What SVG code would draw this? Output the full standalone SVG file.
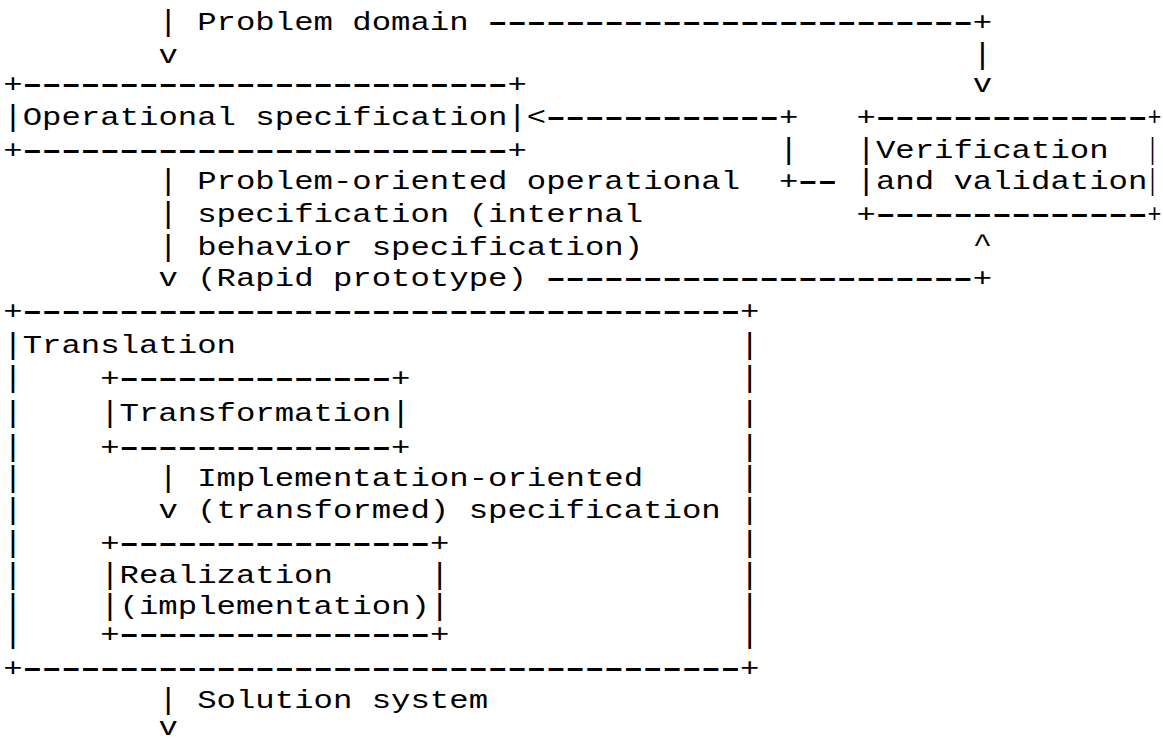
<svg xmlns="http://www.w3.org/2000/svg" width="1163" height="742" viewBox="0 0 1163 742">
<style>
text { font-family: "Liberation Mono", "DejaVu Sans Mono", monospace; font-size: 25px; fill: #000; white-space: pre; }
text.bar { font-size: 30px; }
text.dash { font-family: "Liberation Sans", "Arial", sans-serif; font-weight: bold; }
</style>
<rect x="0" y="0" width="1163" height="742" fill="#fff"/>

<g id="node-operational-specification">
  <text x="3.3" y="92" textLength="19.39" lengthAdjust="spacingAndGlyphs">+</text>
  <text class="dash" x="22.7" y="92" textLength="484.75" lengthAdjust="spacingAndGlyphs">-------------------------</text>
  <text x="507.4" y="92" textLength="19.39" lengthAdjust="spacingAndGlyphs">+</text>
  <text class="bar" x="3.3" y="126" textLength="19.39" lengthAdjust="spacingAndGlyphs">|</text>
  <text x="22.7" y="125" textLength="484.75" lengthAdjust="spacingAndGlyphs">Operational specification</text>
  <text class="bar" x="507.4" y="126" textLength="19.39" lengthAdjust="spacingAndGlyphs">|</text>
  <text x="3.3" y="158" textLength="19.39" lengthAdjust="spacingAndGlyphs">+</text>
  <text class="dash" x="22.7" y="158" textLength="484.75" lengthAdjust="spacingAndGlyphs">-------------------------</text>
  <text x="507.4" y="158" textLength="19.39" lengthAdjust="spacingAndGlyphs">+</text>
</g>

<g id="node-verification-and-validation">
  <text x="856.5" y="125" textLength="19.39" lengthAdjust="spacingAndGlyphs">+</text>
  <text class="dash" x="875.9" y="125" textLength="271.46" lengthAdjust="spacingAndGlyphs">--------------</text>
  <text x="1147.5" y="125" textLength="14" lengthAdjust="spacingAndGlyphs">+</text>
  <text class="bar" x="856.5" y="159" textLength="19.39" lengthAdjust="spacingAndGlyphs">|</text>
  <text x="875.9" y="158" textLength="232.68" lengthAdjust="spacingAndGlyphs">Verification</text>
  <text class="bar" x="1147" y="159" textLength="11" lengthAdjust="spacingAndGlyphs">|</text>
  <text class="bar" x="856.5" y="190" textLength="19.39" lengthAdjust="spacingAndGlyphs">|</text>
  <text x="875.9" y="189" textLength="271.46" lengthAdjust="spacingAndGlyphs">and validation</text>
  <text class="bar" x="1147" y="190" textLength="11" lengthAdjust="spacingAndGlyphs">|</text>
  <text x="856.5" y="222" textLength="19.39" lengthAdjust="spacingAndGlyphs">+</text>
  <text class="dash" x="875.9" y="222" textLength="271.46" lengthAdjust="spacingAndGlyphs">--------------</text>
  <text x="1147.5" y="222" textLength="14" lengthAdjust="spacingAndGlyphs">+</text>
</g>

<g id="node-translation">
  <text x="3.3" y="319" textLength="19.39" lengthAdjust="spacingAndGlyphs">+</text>
  <text class="dash" x="22.7" y="319" textLength="717.43" lengthAdjust="spacingAndGlyphs">-------------------------------------</text>
  <text x="740.1" y="319" textLength="19.39" lengthAdjust="spacingAndGlyphs">+</text>
  <text class="bar" x="3.3" y="354" textLength="19.39" lengthAdjust="spacingAndGlyphs">|</text>
  <text x="22.7" y="353" textLength="213.29" lengthAdjust="spacingAndGlyphs">Translation</text>
  <text class="bar" x="740.1" y="354" textLength="19.39" lengthAdjust="spacingAndGlyphs">|</text>
  <text class="bar" x="3.3" y="387" textLength="19.39" lengthAdjust="spacingAndGlyphs">|</text>
  <text class="bar" x="740.1" y="387" textLength="19.39" lengthAdjust="spacingAndGlyphs">|</text>
  <text class="bar" x="3.3" y="422" textLength="19.39" lengthAdjust="spacingAndGlyphs">|</text>
  <text class="bar" x="740.1" y="422" textLength="19.39" lengthAdjust="spacingAndGlyphs">|</text>
  <text class="bar" x="3.3" y="456" textLength="19.39" lengthAdjust="spacingAndGlyphs">|</text>
  <text class="bar" x="740.1" y="456" textLength="19.39" lengthAdjust="spacingAndGlyphs">|</text>
  <text class="bar" x="3.3" y="487" textLength="19.39" lengthAdjust="spacingAndGlyphs">|</text>
  <text class="bar" x="740.1" y="487" textLength="19.39" lengthAdjust="spacingAndGlyphs">|</text>
  <text class="bar" x="3.3" y="519" textLength="19.39" lengthAdjust="spacingAndGlyphs">|</text>
  <text class="bar" x="740.1" y="519" textLength="19.39" lengthAdjust="spacingAndGlyphs">|</text>
  <text class="bar" x="3.3" y="552" textLength="19.39" lengthAdjust="spacingAndGlyphs">|</text>
  <text class="bar" x="740.1" y="552" textLength="19.39" lengthAdjust="spacingAndGlyphs">|</text>
  <text class="bar" x="3.3" y="584" textLength="19.39" lengthAdjust="spacingAndGlyphs">|</text>
  <text class="bar" x="740.1" y="584" textLength="19.39" lengthAdjust="spacingAndGlyphs">|</text>
  <text class="bar" x="3.3" y="615" textLength="19.39" lengthAdjust="spacingAndGlyphs">|</text>
  <text class="bar" x="740.1" y="615" textLength="19.39" lengthAdjust="spacingAndGlyphs">|</text>
  <text class="bar" x="3.3" y="643" textLength="19.39" lengthAdjust="spacingAndGlyphs">|</text>
  <text class="bar" x="740.1" y="643" textLength="19.39" lengthAdjust="spacingAndGlyphs">|</text>
  <text x="3.3" y="676" textLength="19.39" lengthAdjust="spacingAndGlyphs">+</text>
  <text class="dash" x="22.7" y="676" textLength="717.43" lengthAdjust="spacingAndGlyphs">-------------------------------------</text>
  <text x="740.1" y="676" textLength="19.39" lengthAdjust="spacingAndGlyphs">+</text>

  <g id="node-transformation">
    <text x="100.3" y="386" textLength="19.39" lengthAdjust="spacingAndGlyphs">+</text>
    <text class="dash" x="119.6" y="386" textLength="271.46" lengthAdjust="spacingAndGlyphs">--------------</text>
    <text x="391.1" y="386" textLength="19.39" lengthAdjust="spacingAndGlyphs">+</text>
    <text class="bar" x="100.3" y="422" textLength="19.39" lengthAdjust="spacingAndGlyphs">|</text>
    <text x="119.6" y="421" textLength="271.46" lengthAdjust="spacingAndGlyphs">Transformation</text>
    <text class="bar" x="391.1" y="422" textLength="19.39" lengthAdjust="spacingAndGlyphs">|</text>
    <text x="100.3" y="455" textLength="19.39" lengthAdjust="spacingAndGlyphs">+</text>
    <text class="dash" x="119.6" y="455" textLength="271.46" lengthAdjust="spacingAndGlyphs">--------------</text>
    <text x="391.1" y="455" textLength="19.39" lengthAdjust="spacingAndGlyphs">+</text>
  </g>

  <g id="node-realization">
    <text x="100.3" y="551" textLength="19.39" lengthAdjust="spacingAndGlyphs">+</text>
    <text class="dash" x="119.6" y="551" textLength="310.24" lengthAdjust="spacingAndGlyphs">----------------</text>
    <text x="429.9" y="551" textLength="19.39" lengthAdjust="spacingAndGlyphs">+</text>
    <text class="bar" x="100.3" y="584" textLength="19.39" lengthAdjust="spacingAndGlyphs">|</text>
    <text x="119.6" y="583" textLength="213.29" lengthAdjust="spacingAndGlyphs">Realization</text>
    <text class="bar" x="429.9" y="584" textLength="19.39" lengthAdjust="spacingAndGlyphs">|</text>
    <text class="bar" x="100.3" y="615" textLength="19.39" lengthAdjust="spacingAndGlyphs">|</text>
    <text x="119.6" y="614" textLength="310.24" lengthAdjust="spacingAndGlyphs">(implementation)</text>
    <text class="bar" x="429.9" y="615" textLength="19.39" lengthAdjust="spacingAndGlyphs">|</text>
    <text x="100.3" y="642" textLength="19.39" lengthAdjust="spacingAndGlyphs">+</text>
    <text class="dash" x="119.6" y="642" textLength="310.24" lengthAdjust="spacingAndGlyphs">----------------</text>
    <text x="429.9" y="642" textLength="19.39" lengthAdjust="spacingAndGlyphs">+</text>
  </g>
</g>

<g id="connectors">
  <!-- Problem domain input and branch to verification -->
  <text class="bar" x="158.4" y="31" textLength="19.39" lengthAdjust="spacingAndGlyphs">|</text>
  <text x="197.2" y="30" textLength="271.46" lengthAdjust="spacingAndGlyphs">Problem domain</text>
  <text class="dash" x="488.1" y="30" textLength="484.75" lengthAdjust="spacingAndGlyphs">-------------------------</text>
  <text x="972.8" y="30" textLength="19.39" lengthAdjust="spacingAndGlyphs">+</text>
  <text x="158.4" y="63" textLength="19.39" lengthAdjust="spacingAndGlyphs">v</text>
  <text class="bar" x="972.8" y="64" textLength="19.39" lengthAdjust="spacingAndGlyphs">|</text>
  <text x="972.8" y="92" textLength="19.39" lengthAdjust="spacingAndGlyphs">v</text>

  <!-- feedback from verification to operational specification -->
  <text x="526.8" y="125" textLength="19.39" lengthAdjust="spacingAndGlyphs">&lt;</text>
  <text class="dash" x="546.2" y="125" textLength="232.68" lengthAdjust="spacingAndGlyphs">------------</text>
  <text x="778.9" y="125" textLength="19.39" lengthAdjust="spacingAndGlyphs">+</text>
  <text class="bar" x="778.9" y="159" textLength="19.39" lengthAdjust="spacingAndGlyphs">|</text>
  <text x="778.9" y="189" textLength="19.39" lengthAdjust="spacingAndGlyphs">+</text>
  <text class="dash" x="798.3" y="189" textLength="38.78" lengthAdjust="spacingAndGlyphs">--</text>

  <!-- operational spec to translation, with rapid prototype branch -->
  <text class="bar" x="158.4" y="190" textLength="19.39" lengthAdjust="spacingAndGlyphs">|</text>
  <text x="197.2" y="189" textLength="542.92" lengthAdjust="spacingAndGlyphs">Problem-oriented operational</text>
  <text class="bar" x="158.4" y="223" textLength="19.39" lengthAdjust="spacingAndGlyphs">|</text>
  <text x="197.2" y="222" textLength="445.97" lengthAdjust="spacingAndGlyphs">specification (internal</text>
  <text class="bar" x="158.4" y="256" textLength="19.39" lengthAdjust="spacingAndGlyphs">|</text>
  <text x="197.2" y="255" textLength="445.97" lengthAdjust="spacingAndGlyphs">behavior specification)</text>
  <text x="158.4" y="286" textLength="19.39" lengthAdjust="spacingAndGlyphs">v</text>
  <text x="197.2" y="286" textLength="329.63" lengthAdjust="spacingAndGlyphs">(Rapid prototype)</text>
  <text class="dash" x="546.2" y="286" textLength="426.58" lengthAdjust="spacingAndGlyphs">----------------------</text>
  <text x="972.8" y="286" textLength="19.39" lengthAdjust="spacingAndGlyphs">+</text>
  <text x="972.8" y="252" textLength="19.39" lengthAdjust="spacingAndGlyphs">^</text>

  <!-- transformation to realization -->
  <text class="bar" x="158.4" y="487" textLength="19.39" lengthAdjust="spacingAndGlyphs">|</text>
  <text x="197.2" y="486" textLength="445.97" lengthAdjust="spacingAndGlyphs">Implementation-oriented</text>
  <text x="158.4" y="518" textLength="19.39" lengthAdjust="spacingAndGlyphs">v</text>
  <text x="197.2" y="518" textLength="523.53" lengthAdjust="spacingAndGlyphs">(transformed) specification</text>

  <!-- solution system output -->
  <text class="bar" x="158.4" y="709" textLength="19.39" lengthAdjust="spacingAndGlyphs">|</text>
  <text x="197.2" y="708" textLength="290.85" lengthAdjust="spacingAndGlyphs">Solution system</text>
  <text x="158.4" y="735" textLength="19.39" lengthAdjust="spacingAndGlyphs">v</text>
</g>
</svg>
